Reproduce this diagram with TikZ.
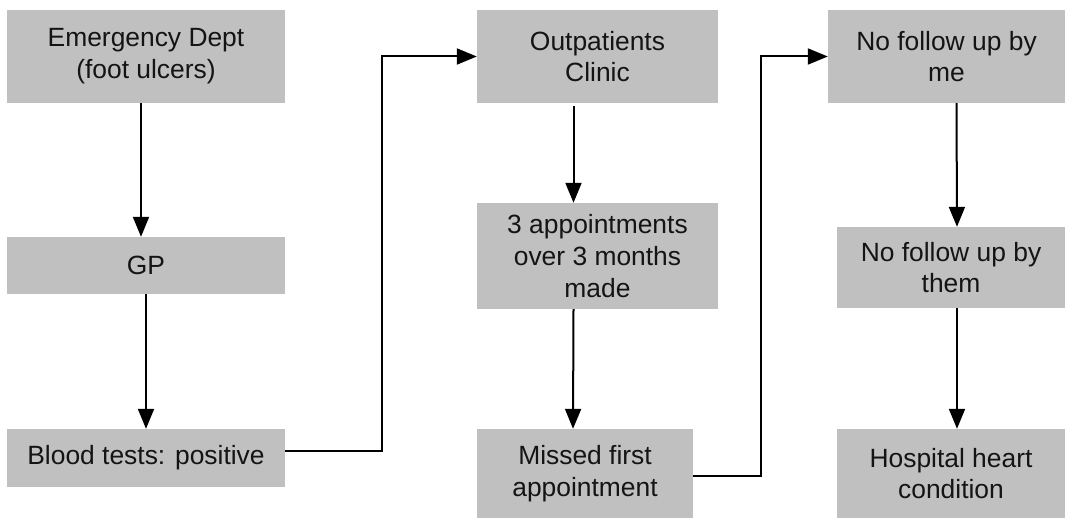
\documentclass[tikz,border=0pt]{standalone}
\usepackage{fontspec}
\setmainfont{Liberation Sans}
\usepackage{tikz}
\usetikzlibrary{arrows.meta,calc}
\definecolor{boxgray}{RGB}{192,192,192}
\definecolor{ink}{RGB}{20,20,20}

\begin{document}
\begin{tikzpicture}[x=1pt,y=-1pt,>={Triangle[length=20pt,width=16pt]},
  every node/.style={font=\fontsize{26.4}{31.7}\selectfont,text=ink},
  box/.style={fill=boxgray,align=center,inner sep=0pt}]
\useasboundingbox[fill=white] (0,0) rectangle (1065,519);
% first column
\node[box,minimum width=278pt,minimum height=93pt] (ed) at (146,56.5) {Emergency Dept\\(foot ulcers)};
\node[box,minimum width=278pt,minimum height=57pt] (gp) at (146,265.5) {GP};
\node[box,minimum width=278pt,minimum height=58pt] (blood) at (146,458) {Blood tests: positive};
% second column
\node[box,minimum width=241pt,minimum height=93pt] (opc) at (597.5,56.5) {Outpatients\\Clinic};
\node[box,minimum width=241pt,minimum height=106pt] (appt) at (597.5,256) {3 appointments\\over 3 months\\made};
\node[box,minimum width=216pt,minimum height=89pt] (missed) at (585,473.5) {Missed first\\appointment};
% third column
\node[box,minimum width=237pt,minimum height=93pt] (meno) at (946.5,56.5) {No follow up by\\me};
\node[box,minimum width=228pt,minimum height=81pt] (them) at (951,267.5) {No follow up by\\them};
\node[box,minimum width=228pt,minimum height=89pt] (hosp) at (951,473.5) {Hospital heart\\condition};
% connectors
\draw[->,line width=2pt] ($(ed.south)+(-5,0)$) -- ($(gp.north)+(-5,0)$);
\draw[->,line width=2pt] (gp.south) -- (blood.north);
\draw[->,line width=2pt] ($(opc.south)+(-24,3)$) -- ($(appt.north)+(-24,0)$);
\draw[->,line width=2pt] ($(appt.south)+(-24,0)$) -- ($(missed.north)+(-12,0)$);
\draw[->,line width=2pt] ($(meno.south)+(10,0)$) -- ($(them.north)+(6,0)$);
\draw[->,line width=2pt] ($(them.south)+(6,0)$) -- ($(hosp.north)+(6,0)$);
\draw[->,line width=2pt] ($(blood.east)+(0,-7)$) -- ++(97,0) |- (opc.west);
\draw[->,line width=2pt] ($(missed.east)+(0,2.5)$) -- ++(68,0) |- (meno.west);
\end{tikzpicture}
\end{document}
